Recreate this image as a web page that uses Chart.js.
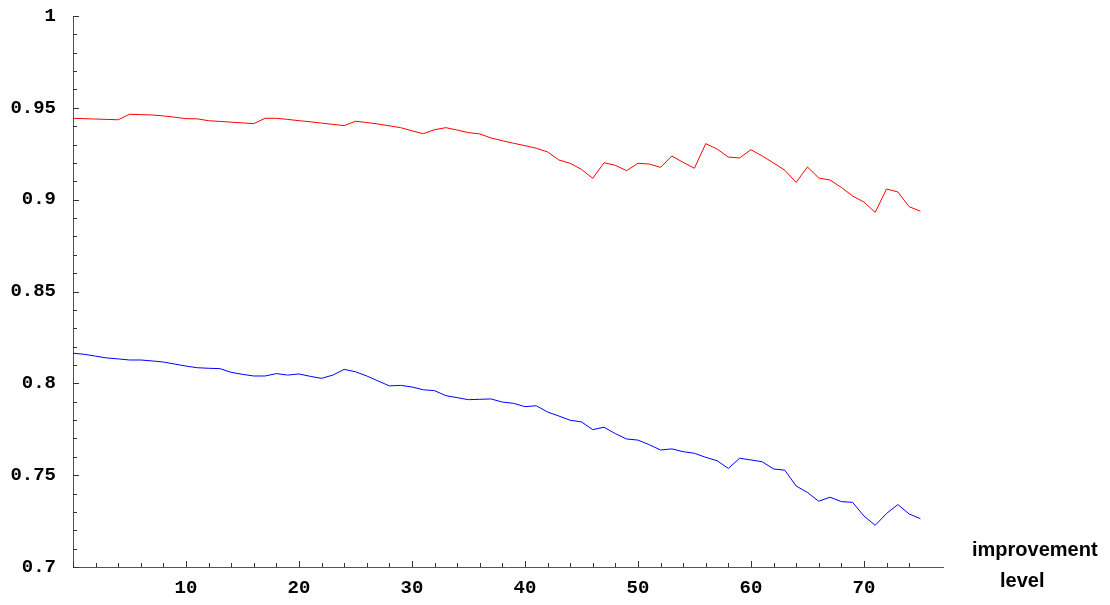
<!DOCTYPE html>
<html>
<head>
<meta charset="utf-8">
<script src="https://cdn.jsdelivr.net/npm/chart.js@4"></script>
<style>
    html, body { margin: 0; padding: 0; background: #fff; }
    #wrap { width: 1110px; height: 605px; position: relative; }
</style>
</head>
<body>
<div id="wrap"><canvas id="levelChart"></canvas></div>
<script>
// improvement level (x)
const levels = [0, 1, 2, 3, 4, 5, 6, 7, 8, 9, 10, 11, 12, 13, 14, 15, 16, 17, 18, 19,
    20, 21, 22, 23, 24, 25, 26, 27, 28, 29, 30, 31, 32, 33, 34, 35, 36, 37, 38, 39,
    40, 41, 42, 43, 44, 45, 46, 47, 48, 49, 50, 51, 52, 53, 54, 55, 56, 57, 58, 59,
    60, 61, 62, 63, 64, 65, 66, 67, 68, 69, 70, 71, 72, 73, 74, 75];

// upper (red) series
const redValues = [0.9443, 0.9441, 0.9439, 0.9437, 0.9435, 0.9465, 0.9463, 0.9461, 0.9456, 0.9449,
    0.9441, 0.9440, 0.9430, 0.9426, 0.9422, 0.9418, 0.9414, 0.9443, 0.9443, 0.9437,
    0.9430, 0.9424, 0.9417, 0.9410, 0.9403, 0.9427, 0.9420, 0.9412, 0.9402, 0.9392,
    0.9375, 0.9359, 0.9381, 0.9392, 0.9379, 0.9365, 0.9358, 0.9336, 0.9321, 0.9307,
    0.9294, 0.9280, 0.9260, 0.9216, 0.9198, 0.9165, 0.9116, 0.9201, 0.9187, 0.9158,
    0.9198, 0.9194, 0.9176, 0.9238, 0.9203, 0.9171, 0.9305, 0.9276, 0.9232, 0.9227,
    0.9272, 0.9238, 0.9200, 0.9160, 0.9094, 0.9178, 0.9118, 0.9107, 0.9067, 0.9020,
    0.8987, 0.8931, 0.9058, 0.9042, 0.8962, 0.8937];

// lower (blue) series
const blueValues = [0.8164, 0.8158, 0.8148, 0.8138, 0.8133, 0.8127, 0.8127, 0.8122, 0.8116, 0.8105,
    0.8094, 0.8085, 0.8082, 0.8080, 0.8060, 0.8049, 0.8040, 0.8040, 0.8053, 0.8045,
    0.8051, 0.8038, 0.8027, 0.8045, 0.8076, 0.8063, 0.8040, 0.8013, 0.7986, 0.7989,
    0.7980, 0.7965, 0.7960, 0.7933, 0.7922, 0.7911, 0.7913, 0.7915, 0.7898, 0.7891,
    0.7873, 0.7878, 0.7844, 0.7822, 0.7799, 0.7790, 0.7748, 0.7761, 0.7726, 0.7697,
    0.7691, 0.7666, 0.7637, 0.7643, 0.7628, 0.7619, 0.7597, 0.7579, 0.7537, 0.7592,
    0.7583, 0.7573, 0.7534, 0.7527, 0.7441, 0.7406, 0.7358, 0.7380, 0.7356, 0.7352,
    0.7278, 0.7227, 0.7291, 0.7340, 0.7289, 0.7263];

// axis settings
const xMax = 77;
const yMin = 0.7;
const yMax = 1;
const axisLabel = ['improvement', 'level'];

const isMajorY = v => Math.abs(v * 20 - Math.round(v * 20)) < 1e-6;
const isMajorX = v => v % 10 === 0;

// Mathematica style ticks: pointing into the plot
const insideTicks = {
    id: 'insideTicks',
    afterDatasetsDraw(chart) {
        const ctx = chart.ctx;
        const area = chart.chartArea;
        const xs = chart.scales.x;
        const ys = chart.scales.y;
        ctx.save();
        ctx.strokeStyle = '#333';
        ctx.lineWidth = 1;
        ctx.beginPath();
        ys.ticks.forEach(t => {
            const y = Math.round(ys.getPixelForValue(t.value)) + 0.5;
            const len = isMajorY(t.value) ? 6 : 4;
            ctx.moveTo(area.left, y);
            ctx.lineTo(area.left + len, y);
        });
        xs.ticks.forEach(t => {
            if (t.value % 2 !== 0) return;
            const x = Math.round(xs.getPixelForValue(t.value)) + 0.5;
            const len = isMajorX(t.value) ? 6 : 4;
            ctx.moveTo(x, area.bottom);
            ctx.lineTo(x, area.bottom - len);
        });
        ctx.stroke();

        // axis label right of x axis end
        ctx.fillStyle = '#000';
        ctx.font = 'bold 20px "Liberation Sans", Arial, sans-serif';
        ctx.textAlign = 'left';
        ctx.textBaseline = 'alphabetic';
        ctx.fillText(axisLabel[0], 972, 556);
        ctx.fillText(axisLabel[1], 1000, 587);
        ctx.restore();
    }
};

document.addEventListener('DOMContentLoaded', () => {
    const ctx = document.getElementById('levelChart').getContext('2d');
    const tickFont = { family: '"Liberation Mono", "Courier New", monospace', weight: 'bold', size: 19 };

    new Chart(ctx, {
        type: 'line',
        data: {
            labels: levels,
            datasets: [
                { data: redValues, borderColor: '#ff0000', borderWidth: 1, pointRadius: 0, tension: 0, fill: false },
                { data: blueValues, borderColor: '#0000ff', borderWidth: 1, pointRadius: 0, tension: 0, fill: false }
            ]
        },
        options: {
            responsive: true,
            maintainAspectRatio: false,
            animation: false,
            layout: { padding: { left: 0, top: 16, right: 167, bottom: 0 } },
            plugins: {
                legend: { display: false },
                tooltip: { enabled: false }
            },
            scales: {
                x: {
                    type: 'linear',
                    min: 0,
                    max: xMax,
                    grid: { display: true, drawOnChartArea: false, drawTicks: false },
                    border: { display: true, color: '#555', width: 1 },
                    afterFit: scale => {
                        scale.height = 38;
                        scale.paddingLeft = 0;
                        scale.paddingRight = 0;
                    },
                    ticks: {
                        stepSize: 2,
                        maxTicksLimit: 1000,
                        autoSkip: false,
                        maxRotation: 0,
                        padding: 10,
                        color: '#000',
                        font: tickFont,
                        callback: v => (isMajorX(v) && v > 0 ? String(v) : '')
                    }
                },
                y: {
                    min: yMin,
                    max: yMax,
                    grid: { display: true, drawOnChartArea: false, drawTicks: false },
                    border: { display: true, color: '#555', width: 1 },
                    afterFit: scale => {
                        scale.width = 73;
                        scale.paddingTop = 0;
                        scale.paddingBottom = 0;
                    },
                    ticks: {
                        stepSize: 0.01,
                        maxTicksLimit: 1000,
                        autoSkip: false,
                        padding: 17,
                        color: '#000',
                        font: tickFont,
                        callback: v => (isMajorY(v) ? String(+v.toFixed(2)) : '')
                    }
                }
            }
        },
        plugins: [insideTicks]
    });
});
</script>
</body>
</html>
